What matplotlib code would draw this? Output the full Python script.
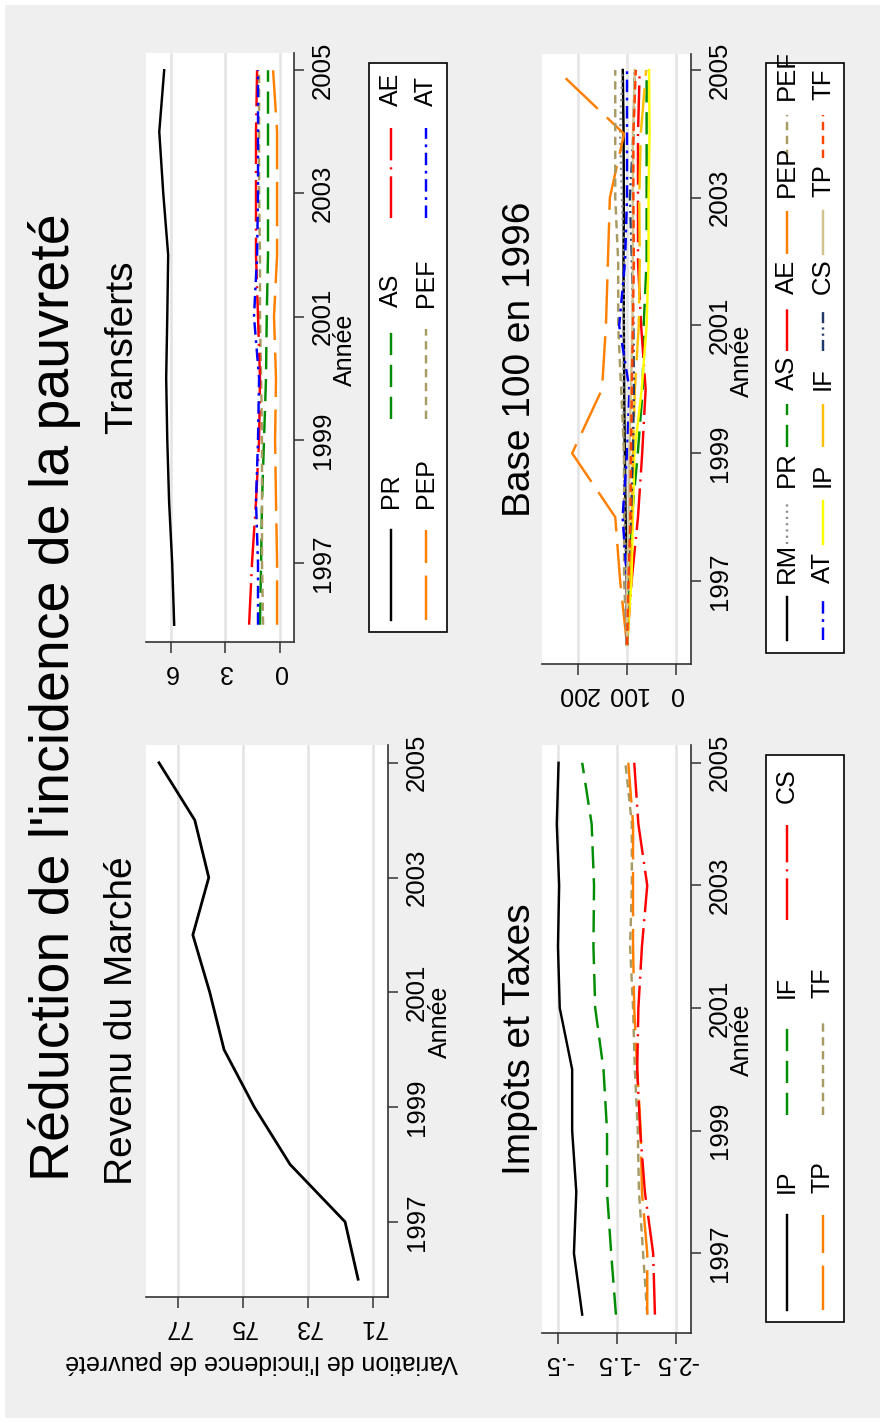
import matplotlib
matplotlib.use("Agg")
import matplotlib.pyplot as plt
from matplotlib.lines import Line2D
from matplotlib.patches import Rectangle

plt.rcParams['font.family'] = ['Liberation Sans', 'DejaVu Sans']
plt.rcParams['lines.scale_dashes'] = False

# ---------------- data ----------------
years = [1996, 1997, 1998, 1999, 2000, 2001, 2002, 2003, 2004, 2005]
year_ticks = [1997, 1999, 2001, 2003, 2005]

# Revenu du Marché
rm = [71.46, 71.86, 73.55, 74.65, 75.58, 76.02, 76.54, 76.05, 76.48, 77.58]

# Transferts
tr_pr = [5.82, 5.93, 6.10, 6.20, 6.26, 6.20, 6.15, 6.42, 6.64, 6.37]
tr_as = [1.10, 1.04, 0.99, 0.88, 0.77, 0.73, 0.66, 0.66, 0.66, 0.66]
tr_ae = [1.70, 1.54, 1.32, 1.15, 1.10, 1.21, 1.32, 1.32, 1.32, 1.26]
tr_pep = [0.16, 0.16, 0.22, 0.27, 0.22, 0.33, 0.16, 0.16, 0.16, 0.38]
tr_pef = [0.93, 0.99, 0.99, 0.99, 1.04, 1.10, 1.10, 1.15, 1.15, 1.15]
tr_at = [1.21, 1.21, 1.32, 1.21, 1.15, 1.43, 1.26, 1.21, 1.21, 1.21]

# Impôts et Taxes
it_ip = [-0.91, -0.77, -0.81, -0.74, -0.74, -0.53, -0.50, -0.52, -0.48, -0.51]
it_if = [-1.48, -1.40, -1.33, -1.33, -1.27, -1.13, -1.10, -1.11, -1.07, -0.91]
it_cs = [-2.14, -2.11, -1.97, -1.89, -1.84, -1.86, -1.92, -2.01, -1.86, -1.79]
it_tp = [-2.01, -2.01, -1.92, -1.90, -1.84, -1.79, -1.77, -1.77, -1.77, -1.69]
it_tf = [-2.01, -1.94, -1.87, -1.85, -1.80, -1.77, -1.72, -1.75, -1.75, -1.64]

# Base 100 en 1996
b_rm = [100, 100.6, 102.9, 104.5, 105.8, 106.4, 107.1, 106.4, 107.0, 108.6]
b_pr = [100, 101.9, 104.8, 106.5, 107.6, 106.5, 105.7, 110.3, 114.1, 109.5]
b_as = [100, 94.5, 90, 78, 68, 66, 60, 60, 60, 60]
b_ae = [100, 90.6, 77.6, 69, 62, 71.2, 77.6, 77.6, 77.6, 74.1]
b_pep = [100, 114, 124, 212, 151, 143, 139, 135, 106, 243]
b_pef = [100, 106, 106, 106, 112, 118, 118, 124, 124, 124]
b_at = [100, 100, 109, 100, 95, 116, 104, 100, 100, 100]
b_ip = [100, 91, 88, 85, 70, 60, 56, 56, 54, 55]
b_if = [100, 95, 90, 88, 84, 76, 74, 75, 72, 61]
b_cs = [100, 99, 92, 88, 86, 87, 90, 94, 87, 84]
b_tp = [100, 100, 96, 95, 92, 89, 88, 88, 88, 84]
b_tf = [100, 97, 93, 92, 90, 88, 86, 87, 87, 82]

# ---------------- styles ----------------
SOLID = '-'
DASH = (0, (16, 7))
LONGDASH = (0, (32, 9))
DASHDOT = (0, (30, 5, 1.5, 5))
SHORTDASH = (0, (6, 4))
DASHDOT_S = (0, (9, 4, 2, 4))
DASHDOTDOT = (0, (8, 3, 1.5, 3, 1.5, 3))
DOT = (0, (1.5, 3))

BLACK = '#000000'
GREY = '#8c8c8c'
GREEN = '#008c00'
RED = '#ff0000'
ORANGE = '#ff8000'
KHAKI = '#a89a63'
BLUE = '#0000ff'
YELLOW = '#ffff00'
GOLD = '#ffbf00'
NAVY = '#1f3a6b'
SAND = '#d2c290'
ORANGERED = '#ff4500'
LW = 1.75

W, H = 885, 1423
fig = plt.figure(figsize=(W / 100, H / 100), dpi=100, facecolor='white')
fig.add_artist(Rectangle((5 / W, 1 - 1418 / H), 875 / W, 1413 / H,
                         transform=fig.transFigure, facecolor='#efefef',
                         edgecolor='none', zorder=-10))


def fx(x):
    return x / W


def fy(y):
    return 1 - y / H


def panel(x0, x1, y0, y1, xlim, ylim, vticks, vlabels):
    ax = fig.add_axes([x0 / W, 1 - y1 / H, (x1 - x0) / W, (y1 - y0) / H])
    ax.set_facecolor('white')
    ax.set_xlim(*xlim)
    ax.set_ylim(*ylim)
    ax.set_xticks(vticks, vlabels)
    ax.set_yticks(year_ticks, [str(y) for y in year_ticks])
    for s in ('top', 'left'):
        ax.spines[s].set_visible(False)
    for s in ('right', 'bottom'):
        ax.spines[s].set_color('#333333')
        ax.spines[s].set_linewidth(1.2)
    ax.yaxis.tick_right()
    ax.tick_params(axis='y', left=False, right=True, labelleft=False,
                   labelright=True, labelrotation=90, length=7, width=1.1,
                   pad=5, labelsize=18.5, color='#333333')
    ax.tick_params(axis='x', labelrotation=180, length=8, width=1.1, pad=5,
                   labelsize=18, color='#333333')
    for lbl in ax.get_yticklabels():
        lbl.set_va('center')
    ax.grid(axis='x', color='#e4e4e4', lw=1.8)
    ax.grid(axis='y', visible=False)
    ax.set_axisbelow(True)
    return ax


def draw(ax, vals, color, ls, lw=LW):
    ax.plot(vals, years, color=color, linestyle=ls, lw=lw,
            dash_capstyle='butt', solid_joinstyle='round')


def subtitle(x, y, text):
    fig.text(fx(x), fy(y), text, rotation=90, ha='center', va='center',
             fontsize=28)


def annee(x, y):
    fig.text(fx(x), fy(y), 'Année', rotation=90, ha='center', va='center',
             fontsize=18)


def legend_box(x0, x1, y0, y1):
    fig.add_artist(Rectangle((fx(x0), fy(y1)), (x1 - x0) / W, (y1 - y0) / H,
                             transform=fig.transFigure, facecolor='white',
                             edgecolor='black', lw=1.2, zorder=1))


def legend_entry(x, yb, yt, color, ls, label, ystart, fs):
    fig.add_artist(Line2D([fx(x), fx(x)], [fy(yb), fy(yt)],
                          transform=fig.transFigure, color=color,
                          linestyle=ls, lw=LW, dash_capstyle='butt',
                          zorder=2))
    fig.text(fx(x), fy(ystart), label, rotation=90, rotation_mode='anchor',
             ha='left', va='center', fontsize=fs, zorder=3)


# ---------------- title ----------------
fig.text(fx(55), fy(697), "Réduction de l'incidence de la pauvreté",
         rotation=90, ha='center', va='center', fontsize=40)

# ---------------- Transferts ----------------
ax = panel(146, 294, 53, 642, (7.37, -0.77), (1995.72, 2005.28),
           [0, 3, 6], ['0', '3', '6'])
draw(ax, tr_pr, BLACK, SOLID)
draw(ax, tr_pep, ORANGE, LONGDASH)
draw(ax, tr_as, GREEN, DASH)
draw(ax, tr_pef, KHAKI, SHORTDASH)
draw(ax, tr_ae, RED, DASHDOT)
draw(ax, tr_at, BLUE, DASHDOT_S)
subtitle(122, 347, 'Transferts')
annee(345, 350)

legend_box(369, 447, 63, 632)
tr_legend = [
    (391, 0, BLACK, SOLID, 'PR'), (391, 1, GREEN, DASH, 'AS'),
    (391, 2, RED, DASHDOT, 'AE'), (426, 0, ORANGE, LONGDASH, 'PEP'),
    (426, 1, KHAKI, SHORTDASH, 'PEF'), (426, 2, BLUE, DASHDOT_S, 'AT'),
]
for x, i, c, ls, lab in tr_legend:
    yb = 620 - 201 * i
    legend_entry(x, yb, yb - 90, c, ls, lab, yb - 112, 18)

# ---------------- Revenu du Marché ----------------
ax = panel(146, 388, 745, 1297, (77.98, 70.54), (1995.69, 2005.31),
           [71, 73, 75, 77], ['71', '73', '75', '77'])
draw(ax, rm, BLACK, SOLID, lw=2.0)
subtitle(122, 1021, 'Revenu du Marché')
annee(440, 1022)
fig.text(fx(262), fy(1362), "Variation de l'incidence de pauvreté",
         rotation=180, ha='center', va='center', fontsize=18)

# ---------------- Impôts et Taxes ----------------
ax = panel(542, 691, 745, 1333, (-0.23, -2.75), (1995.70, 2005.29),
           [-0.5, -1.5, -2.5], ['-.5', '-1.5', '-2.5'])
draw(ax, it_ip, BLACK, SOLID)
draw(ax, it_if, GREEN, DASH)
draw(ax, it_tf, KHAKI, SHORTDASH)
draw(ax, it_tp, ORANGE, LONGDASH)
draw(ax, it_cs, RED, DASHDOT)
subtitle(520, 1039, 'Impôts et Taxes')
annee(742, 1040)

legend_box(766, 844, 755, 1322)
it_legend = [
    (787, 0, BLACK, SOLID, 'IP'), (787, 1, GREEN, DASH, 'IF'),
    (787, 2, RED, DASHDOT, 'CS'), (823, 0, ORANGE, LONGDASH, 'TP'),
    (823, 1, KHAKI, SHORTDASH, 'TF'),
]
for x, i, c, ls, lab in it_legend:
    yb = 1310 - 195 * i
    legend_entry(x, yb, yb - 95, c, ls, lab, yb - 117, 18)

# ---------------- Base 100 en 1996 ----------------
ax = panel(542, 691, 54, 664, (273.5, -30.6), (1995.70, 2005.25),
           [0, 100, 200], ['0', '100', '200'])
base_series = [
    (b_rm, BLACK, SOLID, 'RM'), (b_pr, GREY, DOT, 'PR'),
    (b_as, GREEN, DASH, 'AS'), (b_ae, RED, DASHDOT, 'AE'),
    (b_pep, ORANGE, LONGDASH, 'PEP'), (b_pef, KHAKI, SHORTDASH, 'PEF'),
    (b_at, BLUE, DASHDOT_S, 'AT'), (b_ip, YELLOW, SOLID, 'IP'),
    (b_if, GOLD, LONGDASH, 'IF'), (b_cs, NAVY, DASHDOTDOT, 'CS'),
    (b_tp, SAND, SOLID, 'TP'), (b_tf, ORANGERED, SHORTDASH, 'TF'),
]
for vals, c, ls, lab in base_series:
    draw(ax, vals, c, ls)
subtitle(520, 359, 'Base 100 en 1996')
annee(742, 361)

legend_box(766, 844, 63, 653)
for k, (vals, c, ls, lab) in enumerate(base_series):
    x = 787 if k < 6 else 823
    i = k % 6
    yb = 640 - 96.5 * i
    legend_entry(x, yb, yb - 43, c, ls, lab, yb - 57, 18.5)

fig.savefig('out.png', dpi=100, facecolor=fig.get_facecolor())
